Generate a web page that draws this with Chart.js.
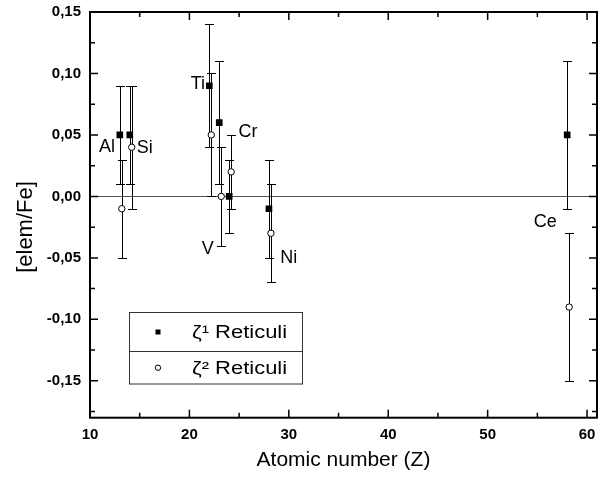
<!DOCTYPE html>
<html>
<head>
<meta charset="utf-8">
<script src="https://cdn.jsdelivr.net/npm/chart.js@4/dist/chart.umd.min.js"></script>
<style>
  html, body { margin: 0; padding: 0; background: #fff; }
  #wrap { width: 602px; height: 478px; }
</style>
</head>
<body>
<div id="wrap"><canvas id="chart" width="602" height="478"></canvas></div>
<script>
// zeta1 Ret points, then zeta2 Ret (plotted a little to the right of the same Z)
const zeta1Z = [13, 14, 22, 23, 24, 28, 58];
const zeta1Val = [0.05, 0.05, 0.09, 0.06, 0.00, -0.01, 0.05];
const zeta1Err = [0.04, 0.04, 0.05, 0.05, 0.03, 0.04, 0.06];

const zeta2Z = [13.2, 14.2, 22.2, 23.2, 24.2, 28.2, 58.2];
const zeta2Val = [-0.01, 0.04, 0.05, 0.00, 0.02, -0.03, -0.09];
const zeta2Err = [0.04, 0.05, 0.05, 0.04, 0.03, 0.04, 0.06];

const xTicks = [10, 15, 20, 25, 30, 35, 40, 45, 50, 55, 60];
const yTicks = [-0.175, -0.15, -0.125, -0.1, -0.075, -0.05, -0.025, 0, 0.025, 0.05, 0.075, 0.1, 0.125, 0.15];

const elements = ['Al', 'Si', 'Ti', 'V', 'Cr', 'Ni', 'Ce'];
// where the element names sit (data units)
const elementPos = [[11.7, 0.040], [15.5, 0.039], [20.85, 0.0915], [21.85, -0.043], [25.9, 0.052], [30.0, -0.050], [55.8, -0.021]];

const FONT = '"Liberation Sans", Arial, sans-serif';

function isMajorX(v) { return v % 10 === 0; }
function isMajorY(v) { return Math.abs(v * 20 - Math.round(v * 20)) < 1e-6; }

function points(zs, vals, errs) {
    return zs.map((z, i) => ({ x: z, y: vals[i], err: errs[i] }));
}

const decor = {
    id: 'decor',
    beforeDatasetsDraw(chart) {
        const { ctx, chartArea: a, scales: { x, y } } = chart;
        ctx.save();
        // zero line
        ctx.strokeStyle = '#555';
        ctx.lineWidth = 1;
        const y0 = Math.round(y.getPixelForValue(0)) + 0.5;
        ctx.beginPath();
        ctx.moveTo(a.left, y0);
        ctx.lineTo(a.right, y0);
        ctx.stroke();

        // error bars
        ctx.strokeStyle = '#000';
        chart.data.datasets.forEach(ds => {
            ds.data.forEach(p => {
                const px = Math.round(x.getPixelForValue(p.x)) + 0.5;
                const top = Math.round(y.getPixelForValue(p.y + p.err)) + 0.5;
                const bot = Math.round(y.getPixelForValue(p.y - p.err)) + 0.5;
                ctx.beginPath();
                ctx.moveTo(px, top); ctx.lineTo(px, bot);
                ctx.moveTo(px - 4.5, top); ctx.lineTo(px + 4.5, top);
                ctx.moveTo(px - 4.5, bot); ctx.lineTo(px + 4.5, bot);
                ctx.stroke();
            });
        });
        ctx.restore();
    },
    afterDatasetsDraw(chart) {
        const { ctx, chartArea: a, scales: { x, y } } = chart;
        ctx.save();

        // frame + inward ticks on all four sides
        ctx.strokeStyle = '#000';
        ctx.lineWidth = 2;
        ctx.strokeRect(a.left, a.top, a.right - a.left, a.bottom - a.top);
        ctx.lineWidth = 1.5;
        ctx.beginPath();
        xTicks.forEach(v => {
            const px = x.getPixelForValue(v);
            const len = isMajorX(v) ? 8 : 5;
            ctx.moveTo(px, a.bottom); ctx.lineTo(px, a.bottom - len);
            ctx.moveTo(px, a.top); ctx.lineTo(px, a.top + len);
        });
        yTicks.forEach(v => {
            const py = y.getPixelForValue(v);
            const len = isMajorY(v) ? 8 : 5;
            ctx.moveTo(a.left, py); ctx.lineTo(a.left + len, py);
            ctx.moveTo(a.right, py); ctx.lineTo(a.right - len, py);
        });
        ctx.stroke();

        // element names
        ctx.fillStyle = '#000';
        ctx.font = '18px ' + FONT;
        ctx.textAlign = 'center';
        ctx.textBaseline = 'middle';
        elements.forEach((name, i) => {
            const [ex, ey] = elementPos[i];
            ctx.fillText(name, x.getPixelForValue(ex), y.getPixelForValue(ey));
        });

        // y title
        ctx.save();
        ctx.translate(26, 227);
        ctx.rotate(-Math.PI / 2);
        ctx.font = '22px ' + FONT;
        ctx.fillText('[elem/Fe]', 0, 0);
        ctx.restore();

        // legend box
        const lx = 129.5, lw = 173, rowH = [39, 32.5];
        let ly = 312.5;
        ctx.lineWidth = 1;
        ctx.strokeStyle = '#333';
        ctx.strokeRect(lx, ly, lw, rowH[0] + rowH[1]);
        ctx.beginPath();
        ctx.moveTo(lx, ly + rowH[0]); ctx.lineTo(lx + lw, ly + rowH[0]);
        ctx.stroke();
        ctx.font = '18px ' + FONT;
        ctx.textAlign = 'left';
        chart.data.datasets.forEach((ds, i) => {
            const cy = ly + rowH[i] / 2;
            if (ds.pointStyle === 'rect') {
                ctx.fillStyle = '#000';
                ctx.fillRect(155.5, cy - 2.5, 5, 5);
            } else {
                ctx.beginPath();
                ctx.arc(158, cy, 2.7, 0, Math.PI * 2);
                ctx.fillStyle = '#fff';
                ctx.fill();
                ctx.strokeStyle = '#000';
                ctx.stroke();
            }
            // the original legend text is a bit wider than plain Arial
            ctx.save();
            ctx.translate(192, cy + 1);
            ctx.scale(1.22, 1);
            ctx.fillStyle = '#000';
            ctx.fillText(ds.label, 0, 0);
            ctx.restore();
            ly += rowH[i];
        });
        ctx.restore();
    }
};

const ctx = document.getElementById('chart').getContext('2d');

new Chart(ctx, {
    type: 'scatter',
    data: {
        datasets: [{
            label: 'ζ¹ Reticuli',
            data: points(zeta1Z, zeta1Val, zeta1Err),
            pointStyle: 'rect',
            pointRadius: 4.7,
            backgroundColor: '#000',
            borderColor: '#000',
            borderWidth: 0
        }, {
            label: 'ζ² Reticuli',
            data: points(zeta2Z, zeta2Val, zeta2Err),
            pointStyle: 'circle',
            pointRadius: 3.2,
            backgroundColor: '#fff',
            borderColor: '#000',
            borderWidth: 1
        }]
    },
    options: {
        responsive: false,
        animation: false,
        events: [],
        layout: { padding: { top: 12, right: 2, left: 0, bottom: 0 } },
        plugins: { legend: { display: false }, tooltip: { enabled: false } },
        scales: {
            x: {
                type: 'linear',
                min: 10,
                max: 61,
                afterBuildTicks: s => { s.ticks = xTicks.map(v => ({ value: v })); },
                afterFit: s => { s.height = 60.3; s.paddingLeft = 0; s.paddingRight = 0; },
                grid: { display: false, drawTicks: false },
                border: { display: false },
                ticks: {
                    padding: 8,
                    autoSkip: false,
                    maxRotation: 0,
                    color: '#000',
                    font: { family: FONT, size: 15, weight: 'bold' },
                    callback: v => isMajorX(v) ? String(v) : ''
                },
                title: {
                    display: true,
                    text: 'Atomic number (Z)',
                    color: '#000',
                    font: { family: FONT, size: 21 },
                    padding: { top: 0, bottom: 5 }
                }
            },
            y: {
                min: -0.18,
                max: 0.15,
                afterBuildTicks: s => { s.ticks = yTicks.map(v => ({ value: v })); },
                afterFit: s => { s.width = 90; s.paddingTop = 0; s.paddingBottom = 0; },
                grid: { display: false, drawTicks: false },
                border: { display: false },
                ticks: {
                    padding: 9,
                    autoSkip: false,
                    color: '#000',
                    font: { family: FONT, size: 15, weight: 'bold' },
                    callback: v => isMajorY(v) ? v.toFixed(2).replace('.', ',') : ''
                }
            }
        }
    },
    plugins: [decor]
});
</script>
</body>
</html>
